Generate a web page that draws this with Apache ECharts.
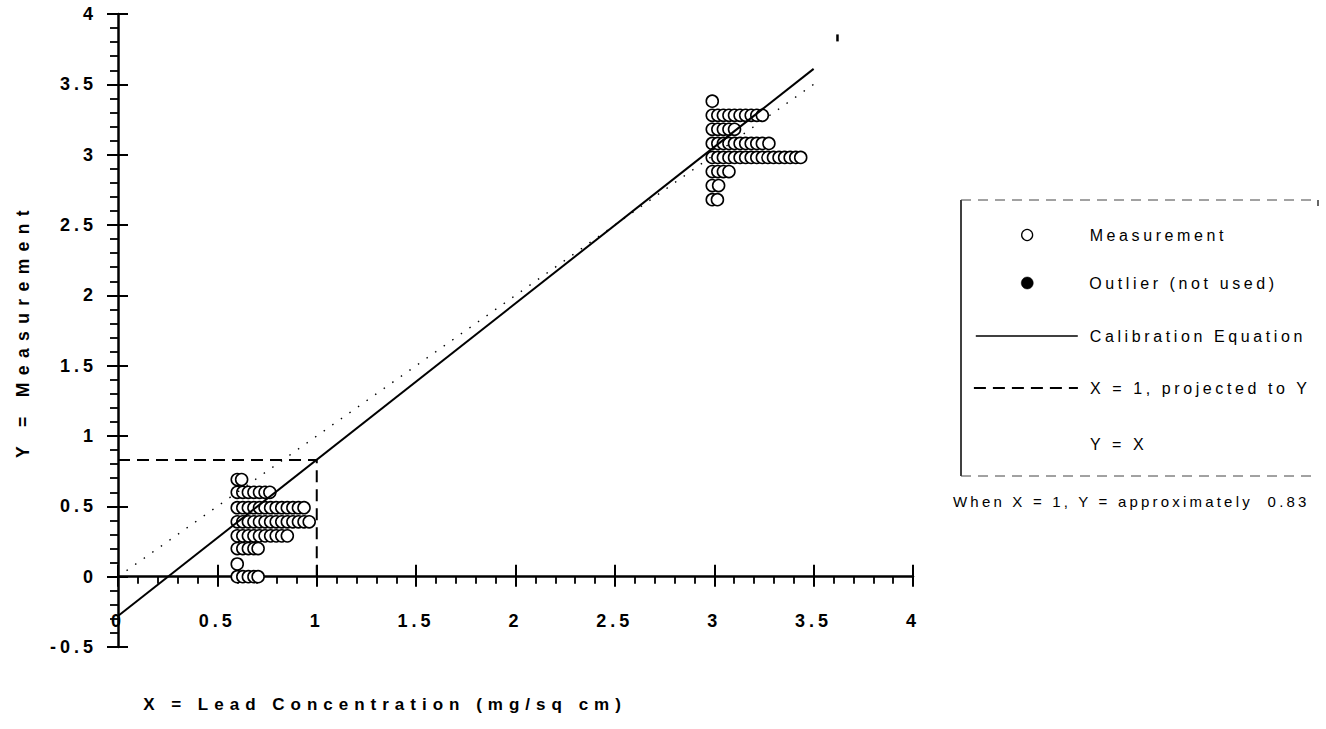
<!DOCTYPE html>
<html>
<head>
<meta charset="utf-8">
<script src="https://cdn.jsdelivr.net/npm/echarts@6/dist/echarts.min.js"></script>
<style>
  html, body { margin: 0; padding: 0; background: #fff; }
  #chart { width: 1326px; height: 729px; }
  /* wide, typewriter-like spacing of the plot lettering */
  #chart text[style*="18px"] { letter-spacing: 4px; }
  #chart text[style*="17px"] { letter-spacing: 6px; }
  #chart text[style*="17.5px"] { letter-spacing: 7.4px; }
  #chart text[style*="16px"] { letter-spacing: 3.6px; }
  #chart text[style*="15px"] { letter-spacing: 3.2px; }
</style>
</head>
<body>
<div id="chart"></div>
<script>
// Measurement rows near X = 0.6 (one y value per row, repeated readings stacked in x)
const lowY = [0.69, 0.60, 0.49, 0.39, 0.29, 0.20, 0.09, 0.00];
const lowX = [
  [0.600, 0.622],
  [0.600, 0.628, 0.656, 0.684, 0.712, 0.740, 0.764],
  [0.600, 0.628, 0.656, 0.684, 0.712, 0.740, 0.768, 0.796, 0.824, 0.852, 0.880, 0.908, 0.936],
  [0.600, 0.628, 0.656, 0.684, 0.712, 0.740, 0.768, 0.796, 0.824, 0.852, 0.880, 0.908, 0.936, 0.962],
  [0.600, 0.628, 0.656, 0.684, 0.712, 0.740, 0.768, 0.796, 0.824, 0.852],
  [0.600, 0.628, 0.656, 0.684, 0.705],
  [0.600],
  [0.600, 0.628, 0.656, 0.684, 0.705]
];
// Measurement rows near X = 3
const highY = [3.38, 3.28, 3.18, 3.08, 2.98, 2.88, 2.78, 2.68];
const highX = [
  [2.990],
  [2.990, 3.018, 3.046, 3.074, 3.102, 3.130, 3.158, 3.186, 3.214, 3.242],
  [2.990, 3.018, 3.046, 3.074, 3.102],
  [2.990, 3.018, 3.046, 3.074, 3.102, 3.130, 3.158, 3.186, 3.214, 3.242, 3.275],
  [2.990, 3.018, 3.046, 3.074, 3.102, 3.130, 3.158, 3.186, 3.214, 3.242, 3.270, 3.298, 3.326, 3.354, 3.382, 3.410, 3.435],
  [2.990, 3.018, 3.046, 3.074],
  [2.990, 3.022],
  [2.990, 3.016]
];
// Outlier excluded from the fit
const outlierX = [3.62];
const outlierY = [3.83];
// Calibration equation end points
const calibX = [0, 3.5];
const calibY = [-0.28, 3.61];
// X = 1 projected to Y (Y is approximately 0.83)
const projX = [0, 1, 1];
const projY = [0.83, 0.83, 0];
// Reference line Y = X
const identX = [0, 3.5];
const identY = [0, 3.5];

const FONT = 'Liberation Sans';

function pairs(xs, ys) { return xs.map((x, i) => [x, ys[i]]); }
function rowPoints(rowsY, rowsX) {
  const pts = [];
  rowsY.forEach((y, r) => rowsX[r].forEach(x => pts.push([x, y])));
  return pts;
}
const measurement = rowPoints(lowY, lowX).concat(rowPoints(highY, highX));

const labelStyle = { color: '#000', fontFamily: FONT, fontSize: 18, fontWeight: 'bold' };

// one legend block per entry, so every row sits at its own height
function legendFor(item, left, top, itemWidth, itemHeight, textPad, extra) {
  return Object.assign({
    data: [item],
    left: left, top: top,
    orient: 'vertical',
    padding: 0,
    itemWidth: itemWidth, itemHeight: itemHeight,
    selectedMode: false,
    textStyle: { color: '#000', fontFamily: FONT, fontSize: 16, padding: [0, 0, 0, textPad] }
  }, extra || {});
}

const chart = echarts.init(document.getElementById('chart'), null, { renderer: 'svg' });
chart.setOption({
  animation: false,
  backgroundColor: '#fff',
  grid: { left: 118, right: 413, top: 14, bottom: 82, containLabel: false, outerBoundsMode: 'none' },
  xAxis: [
    {
      type: 'value', min: 0, max: 4, interval: 0.5, position: 'bottom',
      axisLine: { onZero: true, lineStyle: { color: '#000', width: 2.5 } },
      axisTick: { show: true, length: 10, lineStyle: { color: '#000', width: 2 } },
      minorTick: { show: true, splitNumber: 5, length: 7, lineStyle: { color: '#000', width: 1.8 } },
      splitLine: { show: false }, minorSplitLine: { show: false },
      axisLabel: Object.assign({ margin: -35, showMinLabel: true, showMaxLabel: true }, labelStyle)
    },
    {
      type: 'value', min: 0, max: 4, interval: 0.5, position: 'bottom',
      axisLine: { show: false, onZero: true },
      axisTick: { show: true, inside: true, length: 12, lineStyle: { color: '#000', width: 2 } },
      splitLine: { show: false }, axisLabel: { show: false }
    }
  ],
  yAxis: [
    {
      type: 'value', min: -0.5, max: 4, interval: 0.5, position: 'left',
      name: 'Y = Measurement', nameLocation: 'middle', nameGap: 86, nameRotate: 90,
      nameTextStyle: { color: '#000', fontFamily: FONT, fontSize: 17.5, fontWeight: 'bold' },
      axisLine: { onZero: true, lineStyle: { color: '#000', width: 2.5 } },
      axisTick: { show: true, length: 11, lineStyle: { color: '#000', width: 2 } },
      minorTick: { show: true, splitNumber: 5, length: 8, lineStyle: { color: '#000', width: 1.8 } },
      splitLine: { show: false }, minorSplitLine: { show: false },
      axisLabel: Object.assign({ margin: 21, showMinLabel: true, showMaxLabel: true }, labelStyle)
    },
    {
      type: 'value', min: -0.5, max: 4, interval: 0.5, position: 'left',
      axisLine: { show: false, onZero: true },
      axisTick: { show: true, inside: true, length: 10, lineStyle: { color: '#000', width: 2 } },
      splitLine: { show: false }, axisLabel: { show: false }
    }
  ],
  legend: [
    legendFor({ name: 'Measurement', icon: 'circle' }, 1021, 227, 11, 11, 52,
      { itemStyle: { color: '#fff', borderColor: '#000', borderWidth: 1.3 } }),
    legendFor({ name: 'Outlier (not used)', icon: 'circle', itemStyle: { color: '#000', opacity: 1 } }, 1021, 275, 12, 12, 51,
      { itemStyle: { color: '#000', borderColor: '#000', borderWidth: 0.5, opacity: 1 } }),
    legendFor('Calibration Equation', 975, 328, 102, 14, 7,
      { itemStyle: { opacity: 0 }, lineStyle: { color: '#000', width: 1.6 } }),
    legendFor('X = 1, projected to Y', 973, 380, 104, 14, 7,
      { itemStyle: { opacity: 0 }, lineStyle: { color: '#000', width: 1.8 } }),
    legendFor('Y = X', 975, 436, 102, 14, 7,
      { lineStyle: { opacity: 0 }, itemStyle: { opacity: 0 } })
  ],
  series: [
    {
      name: 'Measurement', type: 'scatter', silent: true, z: 2,
      symbol: 'circle', symbolSize: 12,
      itemStyle: { color: '#fff', borderColor: '#000', borderWidth: 1.6, opacity: 1 },
      data: measurement
    },
    {
      name: 'Outlier (not used)', type: 'scatter', silent: true, z: 2,
      symbol: 'rect', symbolSize: [2.5, 7],
      itemStyle: { color: '#000', opacity: 1 },
      data: pairs(outlierX, outlierY)
    },
    {
      name: 'Calibration Equation', type: 'line', silent: true, z: 3,
      symbol: 'none', itemStyle: { color: '#000' },
      lineStyle: { color: '#000', width: 2 },
      data: pairs(calibX, calibY)
    },
    {
      name: 'X = 1, projected to Y', type: 'line', silent: true, z: 3,
      symbol: 'none', itemStyle: { color: '#000' },
      lineStyle: { color: '#000', width: 2, type: [12, 7] },
      data: pairs(projX, projY)
    },
    {
      name: 'Y = X', type: 'line', silent: true, z: 3,
      symbol: 'none', itemStyle: { color: '#000' },
      lineStyle: { color: '#000', width: 1.4, type: [1.5, 9] },
      data: pairs(identX, identY)
    }
  ],
  graphic: [
    // legend frame
    { type: 'line', silent: true, shape: { x1: 961, y1: 200, x2: 961, y2: 476 }, style: { stroke: '#000', lineWidth: 1.5 } },
    { type: 'line', silent: true, shape: { x1: 961, y1: 200, x2: 1318, y2: 200 }, style: { stroke: '#444', lineWidth: 1, lineDash: [10, 7] } },
    { type: 'line', silent: true, shape: { x1: 961, y1: 476, x2: 1318, y2: 476 }, style: { stroke: '#444', lineWidth: 1, lineDash: [10, 7] } },
    { type: 'line', silent: true, shape: { x1: 1318, y1: 200, x2: 1318, y2: 206 }, style: { stroke: '#000', lineWidth: 1.2 } },
    // note under the legend
    {
      type: 'text', silent: true, x: 953, y: 501,
      style: { text: 'When X = 1, Y = approximately  0.83', font: '15px "Liberation Sans"', fill: '#000', textAlign: 'left', textVerticalAlign: 'middle' }
    },
    // x axis title
    {
      type: 'text', silent: true, x: 385, y: 704,
      style: { text: 'X = Lead Concentration (mg/sq cm)', font: 'bold 17px "Liberation Sans"', fill: '#000', textAlign: 'center', textVerticalAlign: 'middle' }
    }
  ]
});
</script>
</body>
</html>
